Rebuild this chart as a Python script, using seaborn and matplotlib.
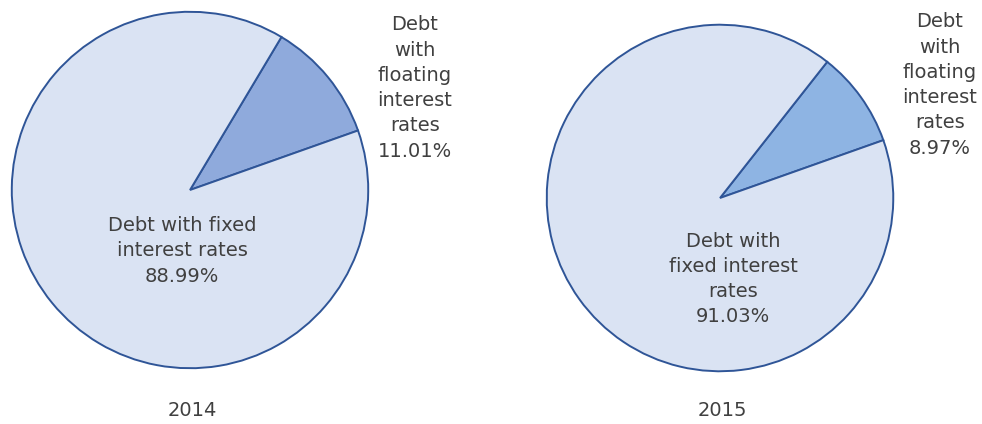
import matplotlib
matplotlib.use("Agg")
import matplotlib.pyplot as plt
import seaborn as sns

sns.set_theme(style="white")
plt.rcParams["font.family"] = ["DejaVu Sans"]

years = ["2014", "2015"]
categories = ["Debt with floating interest rates", "Debt with fixed interest rates"]
floating_share = [11.01, 8.97]
fixed_share = [88.99, 91.03]
floating_labels = ["Debt\nwith\nfloating\ninterest\nrates\n11.01%", "Debt\nwith\nfloating\ninterest\nrates\n8.97%"]
fixed_labels = ["Debt with fixed\ninterest rates\n88.99%", "Debt with\nfixed interest\nrates\n91.03%"]

fixed_color = "#DAE3F3"
floating_colors = ["#8FAADC", "#8EB4E3"]
edge_color = "#2F5597"
text_color = "#404040"

W, H = 982, 424
fig = plt.figure(figsize=(W / 100, H / 100), dpi=100)
fig.patch.set_facecolor("white")

def px_axes(cx, cy, r):
    return fig.add_axes([(cx - r) / W, 1 - (cy + r) / H, 2 * r / W, 2 * r / H])

# pie geometry (center x, center y, radius) in pixels
geoms = [(190, 190, 180), (720, 198, 175)]
float_label_pos = [(415, 88), (940, 85)]
fixed_label_pos = [(182, 251), (733, 279)]
title_pos = [(192, 410), (722, 410)]

for i, year in enumerate(years):
    cx, cy, r = geoms[i]
    ax = px_axes(cx, cy, r)
    ax.pie([floating_share[i], fixed_share[i]],
           colors=[floating_colors[i], fixed_color],
           startangle=19.5, counterclock=True, radius=1.0,
           wedgeprops=dict(edgecolor=edge_color, linewidth=1.4))
    ax.set_xlim(-1.01, 1.01)
    ax.set_ylim(-1.01, 1.01)
    ax.set_aspect("equal")
    ax.axis("off")

    x, y = float_label_pos[i]
    fig.text(x / W, 1 - y / H, floating_labels[i], ha="center", va="center",
             fontsize=14, color=text_color, linespacing=1.42)
    x, y = fixed_label_pos[i]
    fig.text(x / W, 1 - y / H, fixed_labels[i], ha="center", va="center",
             fontsize=14, color=text_color, linespacing=1.42)
    x, y = title_pos[i]
    fig.text(x / W, 1 - y / H, year, ha="center", va="center",
             fontsize=14, color=text_color)

fig.savefig("out.png", dpi=100, facecolor="white")
